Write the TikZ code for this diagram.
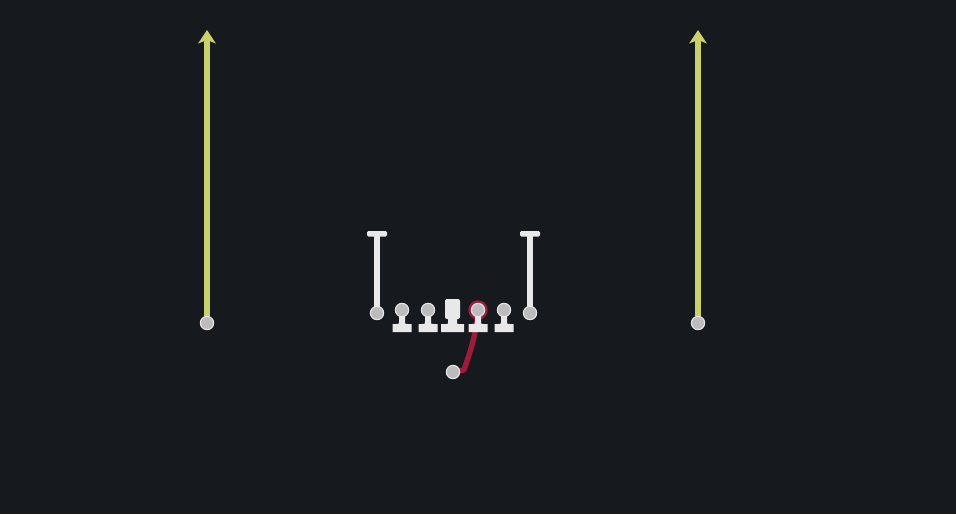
\documentclass[tikz,border=0pt]{standalone}
\usetikzlibrary{arrows.meta}

\definecolor{fieldbg}{RGB}{22,25,30}
\definecolor{routeyel}{RGB}{201,209,106}
\definecolor{blockred}{RGB}{160,26,60}
\definecolor{linewhite}{RGB}{232,232,232}
\definecolor{dotgrey}{RGB}{188,188,190}

\tikzset{
  spot/.style={circle, fill=dotgrey, draw=linewhite, line width=0.8pt, inner sep=0pt, minimum size=10pt},
  stem/.style={fill=linewhite},
  route/.style={draw=routeyel, line width=4pt, -{Stealth[width=13pt,length=10pt,inset=2.5pt]}},
  block/.style={draw=blockred, line width=4pt, line cap=round, line join=round}
}

\begin{document}
\begin{tikzpicture}[x=0.75pt,y=0.75pt,yscale=-1,xscale=1]
%set diagram to 956 x 514
\fill[fieldbg] (0,0) rectangle (956,514);
\useasboundingbox (0,0) rectangle (956,514);

%Block route (under the players)
\coordinate (rgpos) at (478,310);
\coordinate (rbpos) at (453,372);
\draw[blockred, line width=1.8pt] (rgpos) circle (8.5);
\draw[block] (rbpos) -- (464,370) .. controls (470,352) and (476,336) .. (rgpos);

%Wide receivers
\node[spot] (wrL) at (207,323) {};
\coordinate (wrLtip) at (207,30);
\draw[route] (wrL) -- (wrLtip);
\node[spot] (wrR) at (698,323) {};
\coordinate (wrRtip) at (698,30);
\draw[route] (wrR) -- (wrRtip);

%Tight ends
\foreach \x/\name in {377/teL, 530/teR}{
  \fill[stem] (\x-3,233) rectangle (\x+3,313);
  \fill[stem, rounded corners=1] (\x-10,231) rectangle (\x+10,236.5);
  \node[spot] (\name) at (\x,313) {};
}

%Linemen
\foreach \x/\name in {402/lt, 428/lg, 478/rg, 504/rt}{
  \fill[stem] (\x-3,310) -- (\x+3,310) -- (\x+3,322) .. controls (\x+3,324) .. (\x+6,324)
    -- (\x+9.5,324) -- (\x+9.5,332) -- (\x-9.5,332) -- (\x-9.5,324) -- (\x-6,324)
    .. controls (\x-3,324) .. (\x-3,322) -- cycle;
  \node[spot] (\name) at (\x,310) {};
}

%Center
\fill[stem, rounded corners=1.5] (445,299) rectangle (460,319);
\fill[stem] (448,316) -- (457,316) -- (457,322) .. controls (457,324) .. (459,324)
  -- (464,324) -- (464,332) -- (441,332) -- (441,324) -- (446,324)
  .. controls (448,324) .. (448,322) -- cycle;

%Back
\node[spot] (rb) at (rbpos) {};

\end{tikzpicture}
\end{document}
